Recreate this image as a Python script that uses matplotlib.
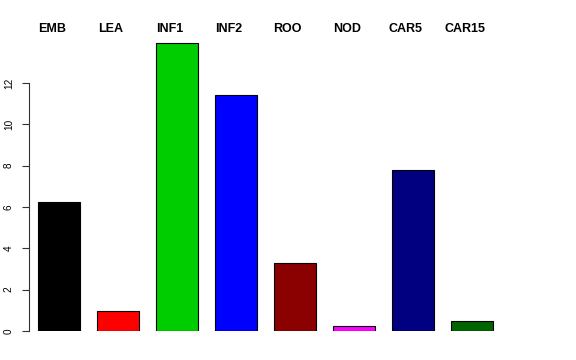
import matplotlib
matplotlib.use("Agg")
import matplotlib.pyplot as plt
import matplotlib.transforms as mtransforms
import numpy as np

# Data
categories = ["EMB", "LEA", "INF1", "INF2", "ROO", "NOD", "CAR5", "CAR15"]
values = [6.24, 0.97, 13.93, 11.42, 3.29, 0.24, 7.79, 0.48]
colors = ["#000000", "#FF0000", "#00CD00", "#0000FF", "#8B0000", "#FF00FF", "#000080", "#006400"]
yticks = [0, 2, 4, 6, 8, 10, 12]

plt.rcParams['font.family'] = ['Liberation Sans', 'DejaVu Sans']

fig = plt.figure(figsize=(5.76, 3.6), dpi=100)
W, H = 576, 360
# axes in pixel coordinates: left spine at x=28.5, y=0 at pixel 331
ax = fig.add_axes([28.5 / W, (H - 331) / H, (548 - 28.5) / W, 289.4 / H])

x = np.arange(len(categories))
ax.bar(x, values, width=0.712, color=colors, edgecolor="black", linewidth=0.8)
ax.set_xlim(-0.525, 8.28)
ax.set_ylim(0, 14)

for s in ["top", "right", "bottom"]:
    ax.spines[s].set_visible(False)
ax.spines["left"].set_bounds(0, 12)
ax.spines["left"].set_color("#333333")
ax.spines["left"].set_linewidth(0.8)
ax.set_xticks([])
ax.set_yticks(yticks)
ax.set_yticklabels([str(t) for t in yticks], rotation=90, va="center", fontsize=7.2)
ax.tick_params(axis="y", length=5, width=0.8, color="#333333", pad=5.5)

# labels along the top, slightly left of each bar
trans = mtransforms.blended_transform_factory(ax.transData, fig.transFigure)
for i, name in enumerate(categories):
    ax.text(x[i] - 0.13, (H - 29) / H, name, ha="center", va="center",
            fontsize=9, fontweight="bold", transform=trans, clip_on=False)

fig.savefig("out.png", dpi=100)
